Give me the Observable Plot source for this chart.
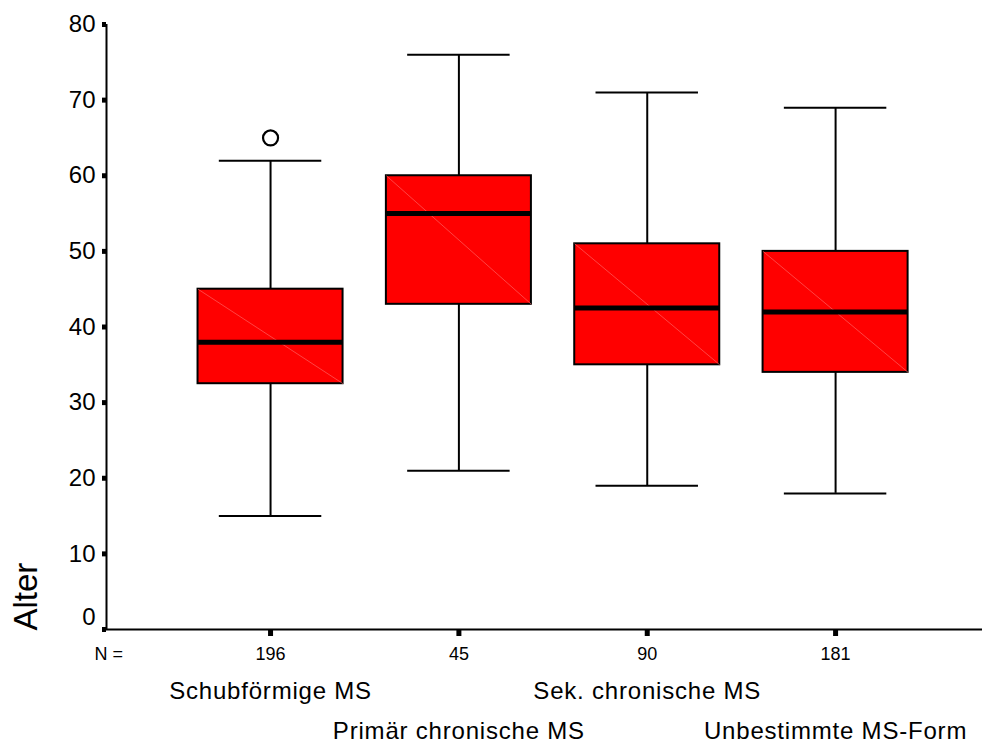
<!DOCTYPE html>
<html>
<head>
<meta charset="utf-8">
<script src="https://cdn.jsdelivr.net/npm/d3@7"></script>
<script src="https://cdn.jsdelivr.net/npm/@observablehq/plot@0.6"></script>
<style>
  html, body { margin: 0; padding: 0; background: white; }
  svg text.catlabel text, svg g.catlabel text { letter-spacing: 0.8px; }
</style>
</head>
<body>
<div id="chart"></div>
<script>
const categories = ["Schubförmige MS", "Primär chronische MS", "Sek. chronische MS", "Unbestimmte MS-Form"];
const nCounts = [196, 45, 90, 181];
const lowWhisker = [15, 21, 19, 18];
const q1 = [32.5, 43, 35, 34];
const median = [38, 55, 42.5, 42];
const q3 = [45, 60, 51, 50];
const highWhisker = [62, 76, 71, 69];
const outlierGroup = [0];
const outlierValue = [65];
const yTicks = [0, 10, 20, 30, 40, 50, 60, 70, 80];
const yLabel = "Alter";
const nLabel = "N =";

const rows = categories.map((c, i) => ({
  i, cat: c, n: nCounts[i], lo: lowWhisker[i], q1: q1[i], med: median[i], q3: q3[i], hi: highWhisker[i]
}));
const outliers = outlierValue.map((v, k) => ({i: outlierGroup[k], v}));

const xDomain = [-0.871, 3.78];
const boxHalf = 0.385;
const capHalf = 0.272;
const font = "'Liberation Sans', Arial, Helvetica, sans-serif";

const chart = Plot.plot({
  width: 985,
  height: 744,
  marginTop: 24,
  marginBottom: 115,
  marginLeft: 106,
  marginRight: 3,
  style: {fontFamily: font, background: "white", color: "black"},
  x: {type: "linear", domain: xDomain},
  y: {type: "linear", domain: [0, 80]},
  marks: [
    // whiskers
    Plot.ruleX(rows, {x: "i", y1: "q3", y2: "hi", stroke: "black", strokeWidth: 2}),
    Plot.ruleX(rows, {x: "i", y1: "lo", y2: "q1", stroke: "black", strokeWidth: 2}),
    Plot.ruleY(rows, {y: "hi", x1: d => d.i - capHalf, x2: d => d.i + capHalf, stroke: "black", strokeWidth: 2}),
    Plot.ruleY(rows, {y: "lo", x1: d => d.i - capHalf, x2: d => d.i + capHalf, stroke: "black", strokeWidth: 2}),
    // boxes
    Plot.rect(rows, {x1: d => d.i - boxHalf, x2: d => d.i + boxHalf, y1: "q1", y2: "q3", fill: "#ff0000", stroke: "black", strokeWidth: 2}),
    Plot.link(rows, {x1: d => d.i - boxHalf, y1: "q3", x2: d => d.i + boxHalf, y2: "q1", stroke: "#ff7070", strokeWidth: 0.6}),
    // medians
    Plot.ruleY(rows, {y: "med", x1: d => d.i - boxHalf, x2: d => d.i + boxHalf, stroke: "black", strokeWidth: 5}),
    // outliers
    Plot.dot(outliers, {x: "i", y: "v", r: 7.5, fill: "white", stroke: "black", strokeWidth: 2.2}),
    // axes
    Plot.axisY({ticks: yTicks, tickSize: 4, tickPadding: 7, fontSize: 24, strokeWidth: 5, label: null, tickFormat: d => d === 0 ? "" : String(d)}),
    Plot.text([yTicks[0]], {x: () => xDomain[0], y: d => d, text: d => String(d), textAnchor: "end", lineAnchor: "middle", dx: -11, dy: -12, fontSize: 24, fill: "black"}),
    Plot.axisX({ticks: rows.map(d => d.i), tickFormat: i => String(nCounts[i]), tickSize: 7, tickPadding: 11, fontSize: 18, strokeWidth: 5, label: null}),
    Plot.ruleY([0], {stroke: "black", strokeWidth: 2}),
    Plot.ruleX([xDomain[0]], {stroke: "black", strokeWidth: 2}),
    // N = label
    Plot.text([nLabel], {x: () => xDomain[0], y: () => 0, text: d => d, textAnchor: "start", lineAnchor: "top", dx: -12, dy: 18, fontSize: 18, fill: "black"}),
    // category labels (staggered)
    Plot.text(rows, {x: "i", y: () => 0, text: "cat", textAnchor: "middle", lineAnchor: "top", fontSize: 24, fill: "black",
      filter: d => d.i % 2 === 0, dy: 52, className: "catlabel"}),
    Plot.text(rows, {x: "i", y: () => 0, text: "cat", textAnchor: "middle", lineAnchor: "top", fontSize: 24, fill: "black",
      filter: d => d.i % 2 === 1, dy: 92, className: "catlabel"}),
    // y label
    Plot.text([yLabel], {x: () => xDomain[0], y: () => 0, text: d => d, rotate: -90, textAnchor: "start", lineAnchor: "bottom", dx: -70, dy: 1, fontSize: 33, fill: "black"})
  ]
});
document.getElementById("chart").appendChild(chart);
</script>
</body>
</html>
